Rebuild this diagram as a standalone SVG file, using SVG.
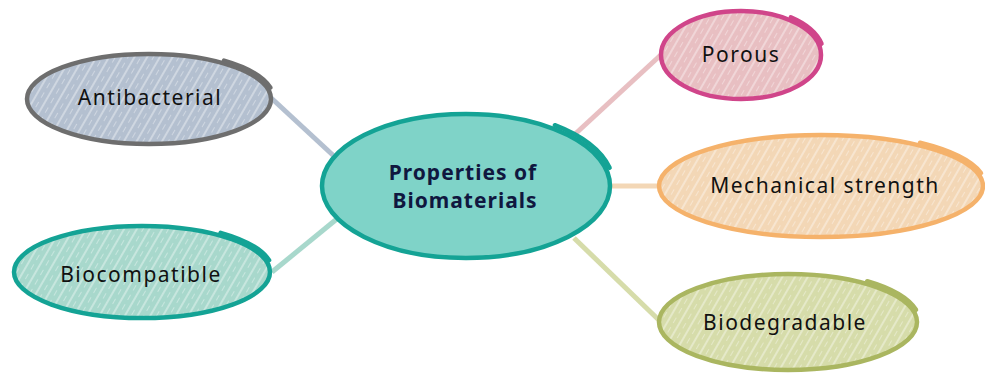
<svg xmlns="http://www.w3.org/2000/svg" width="985" height="375" viewBox="0 0 985 375">
  <style>
    .lbl { font-family: "Noto Sans", "DejaVu Sans", sans-serif; font-size: 21px; letter-spacing: 1.5px; fill: #111; text-anchor: middle; }
    .hub { font-family: "Noto Sans", "DejaVu Sans", sans-serif; font-size: 21px; font-weight: bold; letter-spacing: 1px; fill: #10173f; text-anchor: middle; }
    .edge { stroke-width: 5; stroke-linecap: butt; fill: none; }
    .rim { fill: none; stroke-width: 4.5; stroke-linecap: round; }
    .hatch { fill: url(#hatch); }
  </style>
  <defs>
    <!-- light diagonal strokes laid over each fill for the sketched look -->
    <pattern id="hatch" patternUnits="userSpaceOnUse" width="11" height="11" patternTransform="rotate(-60)">
      <line x1="0" y1="2" x2="11" y2="2" stroke="#ffffff" stroke-opacity="0.6" stroke-width="1.2"/>
      <line x1="2" y1="7.5" x2="8" y2="7.5" stroke="#ffffff" stroke-opacity="0.4" stroke-width="0.9"/>
    </pattern>
  </defs>

  <rect width="985" height="375" fill="#ffffff"/>

  <g id="connectors">
    <line class="edge" x1="268" y1="95" x2="336" y2="158" stroke="#b4c0d0"/>
    <line class="edge" x1="272" y1="272" x2="338" y2="218" stroke="#a8d8cc"/>
    <line class="edge" x1="573" y1="136" x2="664" y2="52" stroke="#e8bfc2"/>
    <line class="edge" x1="610" y1="186" x2="662" y2="186" stroke="#f3d7b6"/>
    <line class="edge" x1="574" y1="238" x2="664" y2="325" stroke="#d6dcaa"/>
  </g>

  <g id="node-antibacterial">
    <ellipse cx="149" cy="99" rx="123" ry="46" fill="#b4c0d0"/>
    <ellipse class="hatch" cx="149" cy="99" rx="123" ry="46"/>
    <ellipse class="rim" cx="149" cy="99" rx="122" ry="45" stroke="#6e6e6e"/>
    <path class="rim" d="M 224 60.6 A 125 48 0 0 1 270.3 87.5" stroke="#6e6e6e"/>
    <text class="lbl" x="150" y="105">Antibacterial</text>
  </g>

  <g id="node-biocompatible">
    <ellipse cx="142" cy="272" rx="129" ry="47" fill="#a8d8cc"/>
    <ellipse class="hatch" cx="142" cy="272" rx="129" ry="47"/>
    <ellipse class="rim" cx="142" cy="272" rx="128" ry="46" stroke="#14a395"/>
    <path class="rim" d="M 220.6 232.8 A 131 49 0 0 1 269.1 260.2" stroke="#14a395"/>
    <text class="lbl" x="141" y="282">Biocompatible</text>
  </g>

  <g id="node-properties">
    <ellipse cx="466" cy="186" rx="145" ry="73" fill="#7fd3c8"/>
    <ellipse class="rim" cx="466" cy="186" rx="144" ry="72" stroke="#14a395" stroke-width="5"/>
    <path class="rim" d="M 554.8 125.2 A 148 76 0 0 1 609.6 167.8" stroke="#14a395" stroke-width="5"/>
    <text class="hub" x="463" y="180">Properties of</text>
    <text class="hub" x="465" y="208">Biomaterials</text>
  </g>

  <g id="node-porous">
    <ellipse cx="741" cy="55" rx="81" ry="45" fill="#e8bfc2"/>
    <ellipse class="hatch" cx="741" cy="55" rx="81" ry="45"/>
    <ellipse class="rim" cx="741" cy="55" rx="80" ry="44" stroke="#d0458a"/>
    <path class="rim" d="M 790.8 17.4 A 83 47 0 0 1 821.5 43.7" stroke="#d0458a"/>
    <text class="lbl" x="741" y="62">Porous</text>
  </g>

  <g id="node-mechanical">
    <ellipse cx="821" cy="186" rx="163" ry="52" fill="#f3d7b6"/>
    <ellipse class="hatch" cx="821" cy="186" rx="163" ry="52"/>
    <ellipse class="rim" cx="821" cy="186" rx="162" ry="51" stroke="#f5b26b"/>
    <path class="rim" d="M 920 142.8 A 165 54 0 0 1 981 173" stroke="#f5b26b"/>
    <text class="lbl" x="825" y="193">Mechanical strength</text>
  </g>

  <g id="node-biodegradable">
    <ellipse cx="788" cy="322" rx="130" ry="49" fill="#d6dcaa"/>
    <ellipse class="hatch" cx="788" cy="322" rx="130" ry="49"/>
    <ellipse class="rim" cx="788" cy="322" rx="129" ry="48" stroke="#aab660"/>
    <path class="rim" d="M 867.2 281.2 A 132 51 0 0 1 916 309.8" stroke="#aab660"/>
    <text class="lbl" x="785" y="330">Biodegradable</text>
  </g>
</svg>
